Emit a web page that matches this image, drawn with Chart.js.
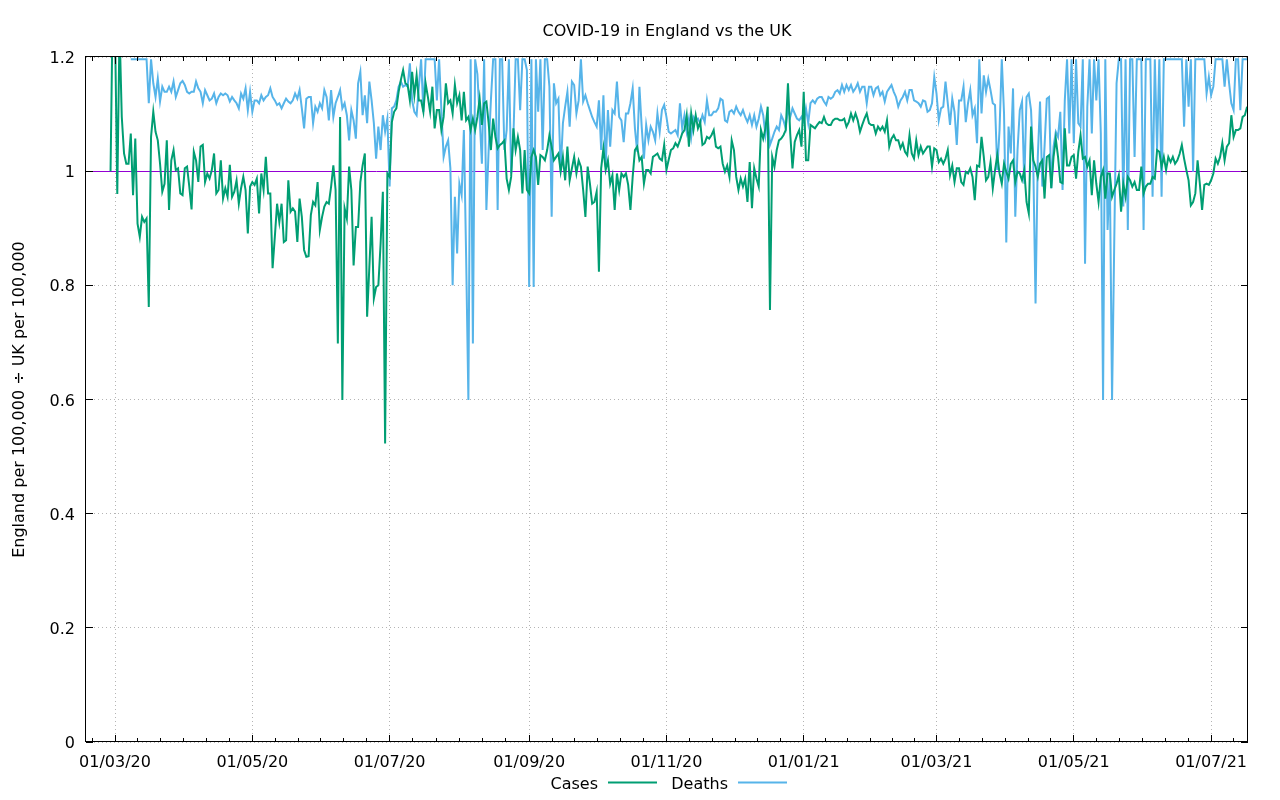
<!DOCTYPE html>
<html>
<head>
<meta charset="utf-8">
<title>COVID-19 in England vs the UK</title>
<script src="https://cdn.jsdelivr.net/npm/chart.js@4.4.0/dist/chart.umd.min.js"></script>
<style>
html, body { margin: 0; padding: 0; background: #fff; }
#wrap { width: 1280px; height: 800px; }
</style>
</head>
<body>
<div id="wrap"><canvas id="ratio-chart" width="1280" height="800"></canvas></div>
<script>
// days are counted from 01/03/2020
var casesFirstDay = -2;
var deathsFirstDay = 7;

var cases = [
    1.0, 1.3, 1.25, 0.96, 1.25, 1.095, 1.031, 1.013, 1.013, 1.066,
    0.958, 1.057, 0.908, 0.885, 0.92, 0.911, 0.917, 0.762, 1.06, 1.104,
    1.069, 1.054, 1.013, 0.964, 0.978, 1.054, 0.932, 1.019, 1.037, 1.002,
    1.005, 0.961, 0.958, 1.005, 1.008, 0.973, 0.933, 1.034, 1.019, 0.981,
    1.043, 1.046, 0.981, 0.996, 0.987, 1.002, 1.031, 0.961, 0.967, 1.019,
    0.952, 0.97, 0.955, 1.011, 0.955, 0.964, 0.984, 0.943, 0.97, 0.99,
    0.967, 0.891, 0.973, 0.981, 0.976, 0.987, 0.926, 0.996, 0.967, 1.025,
    0.961, 0.961, 0.83, 0.885, 0.943, 0.911, 0.943, 0.876, 0.879, 0.984,
    0.929, 0.935, 0.929, 0.876, 0.952, 0.92, 0.862, 0.85, 0.851, 0.923,
    0.946, 0.94, 0.981, 0.897, 0.92, 0.938, 0.946, 0.943, 0.973, 1.01,
    0.967, 0.698, 1.095, 0.599, 0.935, 0.917, 1.008, 0.967, 0.835, 0.902,
    0.902, 0.981, 1.01, 1.031, 0.745, 0.832, 0.92, 0.777, 0.797, 0.8,
    0.873, 0.964, 0.523, 0.996, 0.99, 1.086, 1.104, 1.11, 1.139, 1.16,
    1.177, 1.154, 1.151, 1.124, 1.174, 1.133, 1.168, 1.124, 1.124, 1.104,
    1.154, 1.13, 1.104, 1.148, 1.075, 1.107, 1.107, 1.072, 1.095, 1.154,
    1.119, 1.124, 1.101, 1.151, 1.119, 1.133, 1.089, 1.139, 1.089, 1.095,
    1.072, 1.092, 1.072, 1.095, 1.127, 1.081, 1.119, 1.122, 1.084, 1.037,
    1.092, 1.06, 1.04, 1.046, 1.049, 1.054, 0.987, 0.967, 0.99, 1.075,
    1.037, 1.06, 1.037, 0.961, 1.037, 0.967, 0.961, 1.025, 1.037, 1.025,
    0.976, 1.028, 1.025, 1.019, 1.037, 1.063, 1.043, 1.019, 1.025, 1.031,
    0.999, 1.025, 0.984, 1.043, 0.984, 1.005, 1.025, 0.996, 1.019, 1.008,
    0.967, 0.92, 1.008, 0.978, 0.943, 0.946, 0.964, 0.824, 1.005, 1.04,
    1.002, 1.019, 0.978, 0.993, 0.932, 0.996, 0.967, 0.996, 0.99, 0.996,
    0.976, 0.932, 0.99, 1.037, 1.043, 1.019, 1.025, 0.978, 1.002, 1.002,
    0.996, 1.025, 1.028, 1.031, 1.022, 1.019, 1.046, 1.002, 1.02, 1.037,
    1.04, 1.049, 1.043, 1.054, 1.066, 1.072, 1.098, 1.043, 1.101, 1.072,
    1.098, 1.075, 1.086, 1.046, 1.049, 1.06, 1.057, 1.063, 1.072, 1.043,
    1.04, 1.043, 1.013, 0.999, 1.01, 0.99, 1.054, 1.037, 0.99, 0.967,
    0.987, 0.973, 0.987, 0.946, 1.016, 0.935, 1.005, 0.987, 0.973, 1.072,
    1.057, 1.075, 1.113, 0.757, 1.025, 1.008, 1.037, 1.054, 1.057, 1.063,
    1.072, 1.154, 1.066, 1.005, 1.051, 1.063, 1.072, 1.043, 1.139, 1.019,
    1.019, 1.081, 1.078, 1.075, 1.081, 1.086, 1.084, 1.095, 1.084, 1.081,
    1.081, 1.089, 1.092, 1.092, 1.089, 1.089, 1.092, 1.078, 1.086, 1.101,
    1.089, 1.101, 1.089, 1.069, 1.081, 1.092, 1.101, 1.084, 1.081, 1.081,
    1.066, 1.078, 1.072, 1.078, 1.069, 1.089, 1.043, 1.057, 1.063, 1.054,
    1.054, 1.04, 1.049, 1.034, 1.028, 1.063, 1.031, 1.022, 1.054, 1.028,
    1.043, 1.031, 1.037, 1.043, 1.043, 1.008, 1.04, 1.037, 1.016, 1.022,
    1.013, 1.022, 1.037, 0.993, 1.01, 0.981, 1.005, 1.005, 0.981, 0.976,
    0.999, 0.996, 1.005, 0.99, 0.949, 1.01, 1.008, 1.06, 1.025, 0.984,
    0.99, 1.016, 0.97, 1.002, 1.028, 0.996, 0.978, 1.013, 0.999, 0.987,
    1.013, 1.019, 0.981, 0.999, 0.996, 0.984, 1.002, 0.946, 0.926, 1.078,
    1.019, 1.008, 0.99, 1.013, 1.019, 0.952, 1.025, 1.028, 0.97, 1.025,
    1.057, 1.025, 0.981, 0.979, 1.075, 1.01, 1.01, 1.025, 1.028, 0.987,
    1.034, 1.063, 1.022, 1.025, 1.008, 1.019, 0.958, 1.019, 0.978, 0.946,
    0.99, 1.002, 0.952, 0.996, 0.996, 0.955, 0.967, 0.978, 0.993, 0.929,
    0.978, 0.955, 0.99, 0.984, 0.973, 0.981, 0.967, 0.967, 1.008, 0.961,
    0.973, 0.978, 0.978, 0.99, 0.987, 1.037, 1.034, 1.008, 1.025, 1.002,
    1.025, 1.016, 1.025, 1.013, 1.019, 1.03, 1.046, 1.022, 1.002, 0.984,
    0.94, 0.946, 0.961, 1.019, 0.978, 0.932, 0.976, 0.978, 0.976, 0.984,
    0.996, 1.022, 1.013, 1.025, 1.049, 1.019, 1.043, 1.049, 1.098, 1.06,
    1.072, 1.072, 1.075, 1.095, 1.098, 1.113
];

var deaths = [
    1.196, 1.196, 1.196, 1.196, 1.196, 1.196, 1.196, 1.196, 1.119, 1.196,
    1.154, 1.13, 1.162, 1.122, 1.148, 1.139, 1.139, 1.148, 1.139, 1.157,
    1.13, 1.142, 1.154, 1.158, 1.151, 1.139, 1.136, 1.139, 1.139, 1.157,
    1.145, 1.139, 1.119, 1.142, 1.133, 1.124, 1.127, 1.136, 1.119, 1.13,
    1.136, 1.133, 1.136, 1.133, 1.122, 1.13, 1.124, 1.119, 1.11, 1.136,
    1.127, 1.145, 1.107, 1.139, 1.104, 1.124, 1.124, 1.119, 1.133, 1.124,
    1.13, 1.133, 1.145, 1.13, 1.124, 1.116, 1.119, 1.11, 1.119, 1.127,
    1.122, 1.119, 1.124, 1.136, 1.127, 1.142, 1.11, 1.075, 1.127, 1.13,
    1.13, 1.084, 1.113, 1.104, 1.119, 1.11, 1.142, 1.13, 1.089, 1.142,
    1.095, 1.119, 1.13, 1.142, 1.11, 1.119, 1.098, 1.054, 1.107, 1.089,
    1.057, 1.154, 1.174, 1.098, 1.133, 1.084, 1.157, 1.124, 1.084, 1.022,
    1.078, 1.037, 1.098, 1.069, 1.092, 0.973, 1.11, 1.113, 1.124, 1.148,
    1.157, 1.148, 1.151, 1.148, 1.189, 1.124, 1.104, 1.098, 1.148, 1.196,
    1.104, 1.196, 1.196, 1.196, 1.196, 1.196, 1.124, 1.196, 1.107, 1.025,
    1.043, 1.054, 1.005, 0.8, 0.955, 0.856, 0.978, 0.958, 1.072, 0.85,
    0.599, 1.196, 0.698, 1.196, 1.17, 1.095, 1.013, 1.196, 0.932, 1.037,
    1.124, 1.196, 1.196, 0.932, 1.196, 1.196, 1.037, 1.072, 1.196, 0.996,
    1.06, 1.196, 1.196, 1.107, 1.196, 1.196, 1.177, 0.797, 1.196, 0.797,
    1.196, 1.104, 1.196, 1.037, 1.196, 1.196, 1.148, 0.92, 1.154, 1.119,
    1.127, 0.999, 1.084, 1.113, 1.139, 1.078, 1.157, 1.151, 1.101, 1.124,
    1.196, 1.122, 1.133, 1.119, 1.107, 1.095, 1.086, 1.078, 1.124, 1.037,
    1.133, 1.008, 1.107, 1.043, 1.107, 1.101, 1.157, 1.095, 1.089, 1.051,
    1.101, 1.101, 1.119, 1.145, 1.075, 1.034, 1.148, 1.078, 1.022, 1.081,
    1.054, 1.078, 1.069, 1.054, 1.101, 1.069, 1.107, 1.116, 1.095, 1.069,
    1.066, 1.069, 1.072, 1.063, 1.119, 1.075, 1.098, 1.069, 1.092, 1.06,
    1.095, 1.089, 1.092, 1.084, 1.098, 1.086, 1.124, 1.098, 1.098, 1.104,
    1.104, 1.11, 1.127, 1.124, 1.089, 1.086, 1.104, 1.107, 1.101, 1.113,
    1.104, 1.098, 1.107, 1.095, 1.086, 1.098, 1.081, 1.098, 1.078, 1.092,
    1.113, 1.098, 1.063, 1.095, 1.046, 1.057, 1.069, 1.078, 1.072, 1.098,
    1.089, 1.075, 1.11, 1.095, 1.11, 1.101, 1.092, 1.089, 1.095, 1.086,
    1.11, 1.084, 1.119, 1.124, 1.119, 1.127, 1.13, 1.13, 1.122, 1.116,
    1.13, 1.127, 1.13, 1.139, 1.142, 1.136, 1.151, 1.139, 1.151, 1.142,
    1.151, 1.139, 1.145, 1.154, 1.139, 1.148, 1.148, 1.119, 1.148, 1.148,
    1.133, 1.145, 1.148, 1.133, 1.139, 1.122, 1.139, 1.145, 1.151, 1.139,
    1.13, 1.113, 1.124, 1.13, 1.139, 1.124, 1.142, 1.142, 1.124, 1.122,
    1.119, 1.113, 1.124, 1.122, 1.104, 1.107, 1.119, 1.165, 1.136, 1.089,
    1.11, 1.113, 1.157, 1.119, 1.081, 1.127, 1.104, 1.046, 1.124, 1.124,
    1.148, 1.086, 1.119, 1.142, 1.098, 1.11, 1.049, 1.196, 1.101, 1.168,
    1.139, 1.162, 1.142, 1.119, 1.116, 1.002, 1.072, 1.196, 1.101, 0.875,
    1.078, 1.031, 1.145, 0.92, 1.037, 1.107, 1.122, 0.978, 1.13, 1.136,
    1.107, 1.011, 0.768, 1.025, 1.122, 0.973, 1.043, 1.127, 1.13, 0.97,
    1.043, 1.069, 1.06, 1.104, 0.967, 1.124, 1.196, 1.066, 1.196, 1.049,
    1.196, 1.084, 1.078, 1.196, 0.838, 1.113, 1.196, 1.066, 1.196, 1.124,
    1.196, 1.066, 0.599, 1.196, 0.897, 0.996, 0.599, 0.885, 1.154, 1.196,
    1.196, 0.938, 1.196, 0.897, 1.196, 1.196, 1.025, 1.196, 1.196, 1.196,
    0.897, 1.196, 1.196, 1.196, 0.955, 1.196, 1.037, 1.196, 0.955, 1.196,
    1.196, 1.196, 1.196, 1.196, 1.196, 1.196, 1.196, 1.196, 1.078, 1.196,
    1.113, 1.196, 0.999, 1.196, 1.196, 1.196, 1.196, 1.196, 1.136, 1.165,
    1.133, 1.148, 1.196, 1.196, 1.196, 1.196, 1.148, 1.196, 1.154, 1.119,
    1.107, 1.196, 1.196, 1.107, 1.196, 1.196, 1.196
];

var monthTicks = [0, 61, 122, 184, 245, 306, 365, 426, 487];
var monthLabels = ['01/03/20', '01/05/20', '01/07/20', '01/09/20', '01/11/20',
    '01/01/21', '01/03/21', '01/05/21', '01/07/21'];
var yTickLabels = ['0', '0.2', '0.4', '0.6', '0.8', '1', '1.2'];

function toPoints(values, firstDay) {
    return values.map(function (v, i) { return { x: firstDay + i, y: v }; });
}

var FONT = 'DejaVu Sans';
Chart.defaults.font.family = FONT;
Chart.defaults.font.size = 16;
Chart.defaults.color = '#000';

// gnuplot-like frame, inward tics, reference line, title and key
var gnuplotBits = {
    id: 'gnuplotBits',
    beforeDatasetsDraw: function (chart) {
        var c = chart.ctx, a = chart.chartArea;
        var y1 = Math.floor(chart.scales.y.getPixelForValue(1)) + 0.5;
        c.save();
        c.strokeStyle = '#9400d3';
        c.lineWidth = 1;
        c.beginPath();
        c.moveTo(a.left, y1);
        c.lineTo(a.right, y1);
        c.stroke();
        c.restore();
    },
    afterDatasetsDraw: function (chart) {
        var c = chart.ctx, a = chart.chartArea;
        var xs = chart.scales.x, ys = chart.scales.y;
        c.save();
        c.strokeStyle = '#000';
        c.lineWidth = 1;
        c.strokeRect(a.left - 0.5, a.top - 0.5, a.right - a.left, a.bottom - a.top);
        c.beginPath();
        function xTic(d, len) {
            var px = Math.floor(xs.getPixelForValue(d)) + 0.5;
            if (px < a.left || px > a.right) return;
            c.moveTo(px, a.bottom); c.lineTo(px, a.bottom - len);
            c.moveTo(px, a.top); c.lineTo(px, a.top + len);
        }
        for (var i = 0; i < monthTicks.length; i++) {
            xTic(monthTicks[i], 7);
            var next = i + 1 < monthTicks.length ? monthTicks[i + 1] : monthTicks[i] + 61;
            var prev = i > 0 ? monthTicks[i - 1] : monthTicks[i] - 61;
            for (var k = 1; k < 6; k++) {
                xTic(monthTicks[i] + (next - monthTicks[i]) * k / 6, 4);
                if (i === 0) xTic(prev + (monthTicks[i] - prev) * k / 6, 4);
            }
        }
        for (var j = 0; j < yTickLabels.length; j++) {
            var py = Math.floor(ys.getPixelForValue(j * 0.2)) + 0.5;
            c.moveTo(a.left, py); c.lineTo(a.left + 7, py);
            c.moveTo(a.right, py); c.lineTo(a.right - 7, py);
        }
        c.stroke();
        c.restore();
    },
    afterDraw: function (chart) {
        var c = chart.ctx, a = chart.chartArea;
        c.save();
        c.fillStyle = '#000';
        c.font = '16px "' + FONT + '"';
        c.textBaseline = 'middle';
        c.textAlign = 'center';
        c.fillText('COVID-19 in England vs the UK', (a.left + a.right) / 2, 32);

        var keyY = 784;
        c.textAlign = 'right';
        chart.data.datasets.forEach(function (ds, n) {
            var tx = n === 0 ? 598 : 728;
            c.fillText(ds.label, tx, keyY + 1);
            c.strokeStyle = ds.borderColor;
            c.lineWidth = ds.borderWidth;
            c.beginPath();
            c.moveTo(tx + 10, keyY - 1.5);
            c.lineTo(tx + 59, keyY - 1.5);
            c.stroke();
        });
        c.restore();
    }
};

var ctx = document.getElementById('ratio-chart').getContext('2d');
var myChart = new Chart(ctx, {
    type: 'line',
    data: {
        datasets: [{
            label: 'Cases',
            data: toPoints(cases, casesFirstDay),
            borderColor: '#009e73',
            borderWidth: 2,
            clip: 0
        }, {
            label: 'Deaths',
            data: toPoints(deaths, deathsFirstDay),
            borderColor: '#56b4e9',
            borderWidth: 2,
            clip: 0
        }]
    },
    options: {
        responsive: false,
        animation: false,
        devicePixelRatio: 1,
        layout: { padding: { top: 57, right: 32, bottom: 0, left: 0 } },
        elements: {
            point: { radius: 0 },
            line: { tension: 0, fill: false }
        },
        plugins: {
            legend: { display: false },
            title: { display: false },
            tooltip: { enabled: false }
        },
        scales: {
            x: {
                type: 'linear',
                min: -12.9,
                max: 503.4,
                afterFit: function (scale) { scale.height = 58; },
                afterBuildTicks: function (scale) {
                    scale.ticks = monthTicks.map(function (d) { return { value: d }; });
                },
                ticks: {
                    autoSkip: false,
                    maxRotation: 0,
                    minRotation: 0,
                    padding: 11,
                    callback: function (value, index) { return monthLabels[index]; }
                },
                grid: { color: '#b4b4b4', lineWidth: 1, drawTicks: false },
                border: { display: false, dash: [1, 3] }
            },
            y: {
                min: 0,
                max: 1.2,
                afterFit: function (scale) { scale.width = 86; },
                ticks: {
                    stepSize: 0.2,
                    padding: 11,
                    labelOffset: 2,
                    callback: function (value, index) { return yTickLabels[index]; }
                },
                grid: { color: '#b4b4b4', lineWidth: 1, drawTicks: false },
                border: { display: false, dash: [1, 3] },
                title: {
                    display: true,
                    text: 'England per 100,000 ÷ UK per 100,000',
                    padding: { top: 10, bottom: 0 }
                }
            }
        }
    },
    plugins: [gnuplotBits]
});
</script>
</body>
</html>
